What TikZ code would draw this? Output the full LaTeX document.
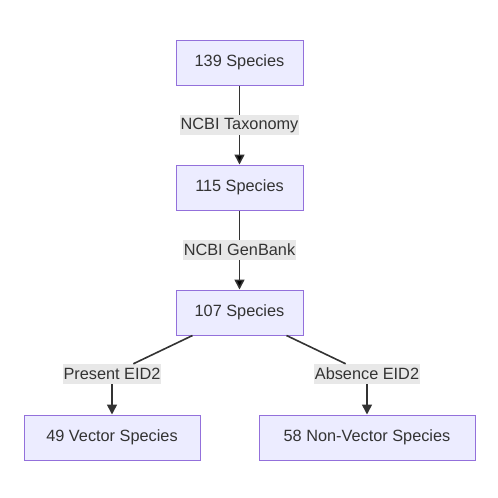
\documentclass[tikz,border=0pt]{standalone}
\usepackage{fontspec}
\setmainfont{Liberation Sans}
\usetikzlibrary{arrows,arrows.meta,positioning}
\definecolor{boxfill}{HTML}{ECECFF}
\definecolor{boxline}{HTML}{9370DB}
\definecolor{ink}{HTML}{333333}
\definecolor{lblfill}{HTML}{E8E8E8}

\begin{document}
\begin{tikzpicture}[>={Triangle[length=10pt,width=10pt]}]
\tikzstyle{species}=[rectangle, node distance = 125pt,
fill=boxfill, draw=boxline, line width=1pt, text=ink,
minimum width=127pt, minimum height=45pt,
font=\fontsize{16.3pt}{19pt}\selectfont]
\tikzstyle{lbl}=[fill=lblfill, text=ink, inner xsep=1pt, inner ysep=0pt,
minimum height=20pt, font=\fontsize{16.3pt}{19pt}\selectfont]
\tikzstyle{flow}=[draw=ink, line width=1.6pt]

\useasboundingbox (0,0) rectangle (498pt,-498pt);

\node[species] at (239.5pt,-62.5pt) (0) {139 Species};
\node[species,below of =0](1) {115 Species} ;
\node[species,below of =1](2) {107 Species} ;
\node[species,below of =2,xshift=-127.5pt,minimum width=176pt](3) {49 Vector Species} ;
\node[species,below of =2,xshift=127.5pt,minimum width=216pt](4) {58 Non-Vector Species} ;

\node[lbl] at (112pt,-374pt) (l3) {Present EID2};
\node[lbl] at (367pt,-374pt) (l4) {Absence EID2};

\path[flow,->] (0) edge node[lbl] {NCBI Taxonomy} (1) ;
\path[flow,->] (1) edge node[lbl] {NCBI GenBank} (2) ;
\draw[flow] ([xshift=17pt]2.south west) -- (l3) ;
\draw[flow,->] (l3) -- (3) ;
\draw[flow] ([xshift=-17pt]2.south east) -- (l4) ;
\draw[flow,->] (l4) -- (4) ;

\end{tikzpicture}
\end{document}
